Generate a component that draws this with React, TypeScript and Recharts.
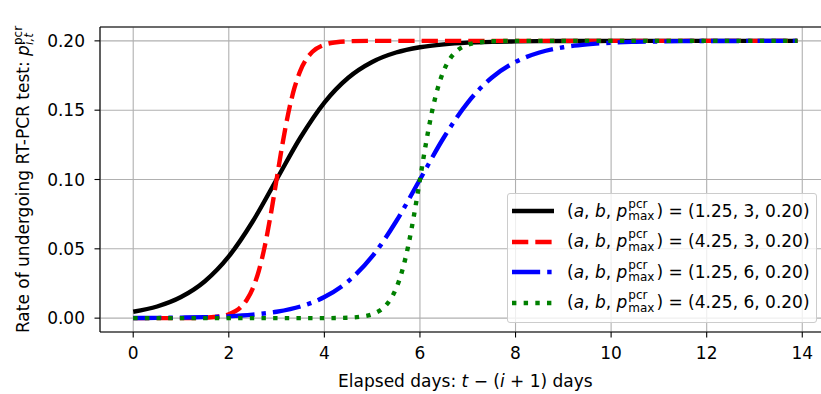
import { LineChart, Line, XAxis, YAxis, CartesianGrid, ReferenceLine, Legend } from 'recharts';

// elapsed days sampled for the gentle curves (a = 1.25)
const slowDays = [0, 0.5, 1, 1.5, 2, 2.5, 3, 3.5, 4, 4.5, 5, 5.5, 6, 6.5, 7, 7.5, 8, 8.5, 9, 9.5, 10, 10.5, 11, 11.5, 12, 12.5, 13, 13.5, 13.9];
const slowB3 = [0.0046, 0.0084, 0.0152, 0.0266, 0.0445, 0.0697, 0.1, 0.1303, 0.1555, 0.1734, 0.1848, 0.1916, 0.1954, 0.1975, 0.1987, 0.1993, 0.1996, 0.1998, 0.1999, 0.1999, 0.2, 0.2, 0.2, 0.2, 0.2, 0.2, 0.2, 0.2, 0.2];
const slowB6 = [0.0001, 0.0002, 0.0004, 0.0007, 0.0013, 0.0025, 0.0046, 0.0084, 0.0152, 0.0266, 0.0445, 0.0697, 0.1, 0.1303, 0.1555, 0.1734, 0.1848, 0.1916, 0.1954, 0.1975, 0.1987, 0.1993, 0.1996, 0.1998, 0.1999, 0.1999, 0.2, 0.2, 0.2];

// steep curves (a = 4.25) need closer samples round the midpoint
const fastDaysB3 = [0, 0.5, 1, 1.5, 1.75, 2, 2.25, 2.375, 2.5, 2.625, 2.75, 2.875, 3, 3.125, 3.25, 3.375, 3.5, 3.625, 3.75, 4, 4.25, 4.5, 5, 5.5, 6, 7, 8, 9, 10, 11, 12, 13, 13.9];
const fastB3 = [0, 0, 0, 0.0003, 0.001, 0.0028, 0.0079, 0.0131, 0.0213, 0.0338, 0.0514, 0.0741, 0.1, 0.1259, 0.1486, 0.1662, 0.1787, 0.1869, 0.1921, 0.1972, 0.199, 0.1997, 0.2, 0.2, 0.2, 0.2, 0.2, 0.2, 0.2, 0.2, 0.2, 0.2, 0.2];
const fastDaysB6 = [0, 1, 2, 3, 4, 4.5, 4.75, 5, 5.25, 5.375, 5.5, 5.625, 5.75, 5.875, 6, 6.125, 6.25, 6.375, 6.5, 6.625, 6.75, 7, 7.25, 7.5, 8, 8.5, 9, 10, 11, 12, 13, 13.9];
const fastB6 = [0, 0, 0, 0, 0, 0.0003, 0.001, 0.0028, 0.0079, 0.0131, 0.0213, 0.0338, 0.0514, 0.0741, 0.1, 0.1259, 0.1486, 0.1662, 0.1787, 0.1869, 0.1921, 0.1972, 0.199, 0.1997, 0.2, 0.2, 0.2, 0.2, 0.2, 0.2, 0.2, 0.2];

const xTicks = [0, 2, 4, 6, 8, 10, 12, 14];
const yTicks = [0, 0.05, 0.1, 0.15, 0.2];

const FONT = '"DejaVu Sans", sans-serif';
const LW = 4.4;

const toRows = (days: number[], vals: number[]) => days.map((t, i) => ({ t, p: vals[i] }));

const series = [
  { key: 'k', a: '1.25', b: '3', color: '#000000', dash: undefined as string | undefined, rows: toRows(slowDays, slowB3) },
  { key: 'r', a: '4.25', b: '3', color: '#ff0000', dash: `${3.7 * LW} ${1.6 * LW}`, rows: toRows(fastDaysB3, fastB3) },
  { key: 'b', a: '1.25', b: '6', color: '#0000ff', dash: `${6.4 * LW} ${1.6 * LW} ${LW} ${1.6 * LW}`, rows: toRows(slowDays, slowB6) },
  { key: 'g', a: '4.25', b: '6', color: '#008000', dash: `${LW} ${1.65 * LW}`, rows: toRows(fastDaysB6, fastB6) },
];

function Stack({ top, bottom }: { top: string; bottom: string }) {
  return (
    <span style={{ display: 'inline-flex', flexDirection: 'column', verticalAlign: 'middle', fontSize: 12, lineHeight: '12.5px', marginLeft: 1, marginRight: 2, position: 'relative', top: -1 }}>
      <span>{top}</span>
      <span>{bottom}</span>
    </span>
  );
}

function LegendBox() {
  return (
    <div style={{ border: '1px solid #cccccc', borderRadius: 3, background: 'rgba(255,255,255,0.8)', padding: '2px 6px 4px 4px', fontFamily: FONT, fontSize: 17, color: '#000' }}>
      {series.map((s) => (
        <div key={s.key} style={{ display: 'flex', alignItems: 'center', height: 30.5, whiteSpace: 'nowrap' }}>
          <svg width={42} height={10} style={{ marginRight: 13, flex: 'none' }}>
            <line x1={0} x2={42} y1={5} y2={5} stroke={s.color} strokeWidth={LW} strokeDasharray={s.dash} />
          </svg>
          <span>
            (<i>a</i>, <i>b</i>, <i>p</i>
            <Stack top="pcr" bottom="max" />) = ({s.a}, {s.b}, 0.20)
          </span>
        </div>
      ))}
    </div>
  );
}

function YLabel() {
  const x = 28.5;
  const y = 179.5;
  return (
    <text x={x} y={y} transform={`rotate(-90 ${x} ${y})`} textAnchor="middle" fontFamily={FONT} fontSize={17} fill="#000">
      Rate of undergoing RT-PCR test: <tspan fontStyle="italic">p</tspan>
      <tspan fontSize={12} dy={-7}>pcr</tspan>
      <tspan fontSize={12} fontStyle="italic" dx={-19} dy={11}>i,t</tspan>
    </text>
  );
}

function XLabel() {
  return (
    <text x={465.4} y={387.3} textAnchor="middle" fontFamily={FONT} fontSize={17} fill="#000">
      Elapsed days: <tspan fontStyle="italic">t</tspan>
      {' − ('}
      <tspan fontStyle="italic">i</tspan>
      {' + 1) days'}
    </text>
  );
}

export default function App() {
  return (
    <div style={{ position: 'absolute', left: 0, top: 0, width: 821, height: 394, overflow: 'hidden', background: '#fff', fontFamily: FONT }}>
      <LineChart width={840} height={394} margin={{ top: 27, right: 9.3, left: 40, bottom: 32 }}>
        <CartesianGrid stroke="#b0b0b0" strokeWidth={1.1} />
        <XAxis
          dataKey="t"
          type="number"
          domain={[-0.695, 14.595]}
          ticks={xTicks}
          allowDataOverflow
          height={30}
          stroke="#000"
          tick={{ fill: '#000', fontSize: 17, fontFamily: FONT }}
          tickSize={5.5}
          tickMargin={9}
          axisLine={{ stroke: '#000', strokeWidth: 1.1 }}
          tickLine={{ stroke: '#000', strokeWidth: 1.1 }}
          label={<XLabel />}
        />
        <YAxis
          type="number"
          domain={[-0.01, 0.21]}
          ticks={yTicks}
          allowDataOverflow
          width={60}
          stroke="#000"
          tickFormatter={(v: number) => v.toFixed(2)}
          tick={{ fill: '#000', fontSize: 17, fontFamily: FONT }}
          tickSize={5.5}
          tickMargin={9.5}
          axisLine={{ stroke: '#000', strokeWidth: 1.1 }}
          tickLine={{ stroke: '#000', strokeWidth: 1.1 }}
          label={<YLabel />}
        />
        <ReferenceLine y={0.21} stroke="#000" strokeWidth={1.1} />
        {series.map((s) => (
          <Line
            key={s.key}
            data={s.rows}
            dataKey="p"
            type="monotone"
            stroke={s.color}
            strokeWidth={LW}
            strokeDasharray={s.dash}
            dot={false}
            activeDot={false}
            isAnimationActive={false}
          />
        ))}
        <Legend
          layout="vertical"
          align="center"
          verticalAlign="middle"
          wrapperStyle={{ left: 507, top: 193, width: 'auto', right: 'auto', bottom: 'auto' }}
          content={() => <LegendBox />}
        />
      </LineChart>
    </div>
  );
}
